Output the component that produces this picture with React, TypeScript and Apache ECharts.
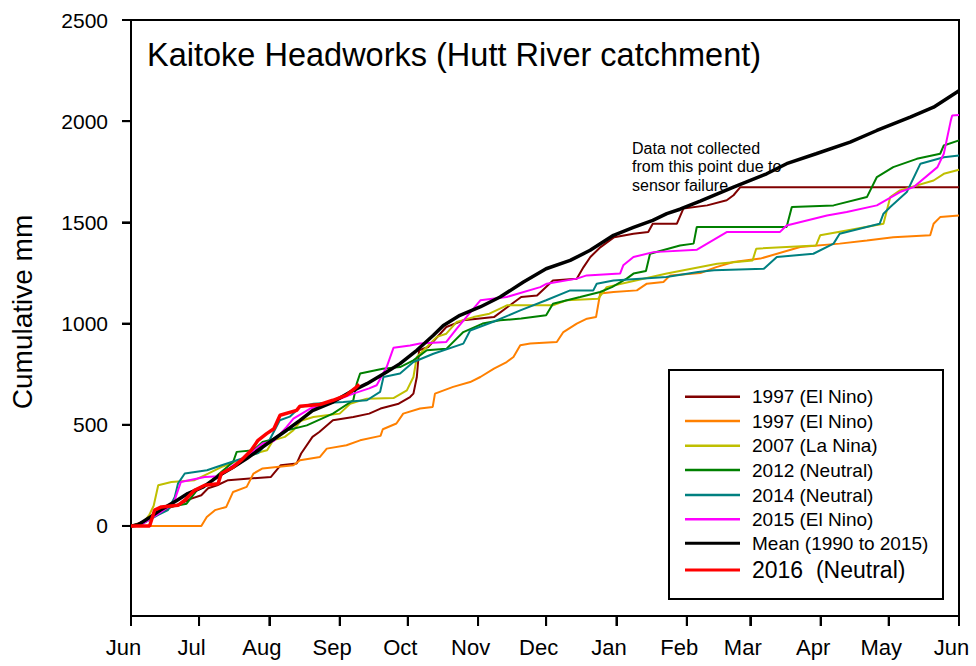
import React, { useEffect, useRef } from "react";
import * as echarts from "echarts";

const MONTH_DAYS = [0, 30, 61, 92, 122, 153, 183, 214, 245, 273, 304, 334, 365];
const MONTH_LABELS = ["Jun", "Jul", "Aug", "Sep", "Oct", "Nov", "Dec", "Jan", "Feb", "Mar", "Apr", "May", "Jun"];
const Y_TICKS = [0, 500, 1000, 1500, 2000, 2500];
const Y_MIN = -445;

const TITLE = "Kaitoke Headworks (Hutt River catchment)";
const Y_NAME = "Cumulative mm";
const NOTE = ["Data not collected", "from this point due to", "sensor failure"];

// [day since 1 June, cumulative mm]
const s1997a: [number, number][] = [
  [0, 0], [5, 20], [12, 60], [18, 95], [23.6, 119], [26.6, 135], [31, 152], [34, 186], [38, 201], [42.8, 226],
  [61.7, 242], [66, 300], [73, 308], [75, 358], [80, 440], [83, 464], [89, 522], [98, 538], [105, 555], [110, 580],
  [118, 604], [123, 637], [124.5, 654], [126, 736], [127, 868], [131, 884], [139, 983], [146.5, 1016], [160, 1032],
  [166, 1082], [172, 1131], [179, 1139], [186, 1213], [196.5, 1222], [199.5, 1279], [202.5, 1329], [207, 1378],
  [213, 1427], [221.5, 1444], [228, 1452], [230, 1493], [240.6, 1493], [243.5, 1568], [254, 1584], [262.6, 1609],
  [265.6, 1634], [268.6, 1674], [365, 1674],
];
const s1997b: [number, number][] = [
  [0, 0], [31, 0], [33.4, 44], [37, 78], [42, 94], [45, 168], [51, 193], [54, 259], [58, 284], [71.6, 300],
  [74.5, 325], [83.3, 341], [86.3, 382], [95, 399], [101, 423], [110, 445], [111, 478], [117, 506], [120, 555],
  [127.4, 580], [133, 588], [134, 654], [142, 687], [149.5, 711], [154, 736], [160, 777], [165.6, 810], [168.6, 835],
  [171.6, 893], [176, 901], [187.7, 909], [190.6, 958], [196.5, 1000], [201, 1024], [205, 1032], [206.8, 1148],
  [212.7, 1156], [223, 1164], [227.4, 1197], [234.7, 1205], [237.7, 1238], [251, 1250], [258, 1279], [265.6, 1304],
  [277.4, 1321], [295, 1378], [312.4, 1395], [324.4, 1411], [336, 1427], [352.3, 1436], [353.8, 1493],
  [356.7, 1526], [365, 1534],
];
const s2007: [number, number][] = [
  [0, 0], [5, 10], [8, 53], [10, 100], [12, 201], [17.8, 217], [28, 226], [34, 259], [39.8, 291], [44, 308],
  [57, 365], [60, 374], [62.7, 423], [67.8, 440], [71.6, 473], [75, 520], [80.4, 538], [86.3, 547], [92, 555],
  [96.6, 604], [104, 629], [115.7, 632], [121.6, 670], [124.5, 736], [126, 835], [130.4, 884], [134.8, 934],
  [139, 950], [143.6, 1008], [151, 1032], [158, 1049], [165.7, 1090], [186, 1090], [192, 1115], [206, 1123],
  [209.7, 1180], [221.5, 1210], [236.2, 1247], [258.4, 1296], [274, 1312], [275.6, 1370], [302, 1386],
  [303.8, 1436], [315.5, 1460], [331.7, 1493], [334.7, 1625], [339, 1658], [353.8, 1707], [358.3, 1740],
  [365, 1760],
];
const s2012: [number, number][] = [
  [0, 0], [5, 15], [10, 50], [17, 94], [24.5, 110], [29, 176], [33, 200], [39, 259], [45, 316], [46.6, 366],
  [54, 374], [58, 415], [63, 430], [68, 470], [77.5, 497], [89, 555], [98, 621], [99.5, 703], [101, 753],
  [111, 777], [118.6, 785], [124.5, 818], [130.4, 868], [139, 875], [146.5, 958], [155, 1000], [162.7, 1016],
  [172, 1025], [183, 1041], [186, 1098], [198, 1131], [206.8, 1156], [212, 1180], [218.5, 1222], [221.5, 1247],
  [227, 1260], [228.8, 1345], [242, 1386], [248, 1395], [249.4, 1477], [289, 1477], [291.3, 1576], [309.7, 1584],
  [324.4, 1625], [328.8, 1724], [336, 1773], [346.4, 1814], [356.7, 1839], [358.3, 1880], [365, 1905],
];
const s2014: [number, number][] = [
  [0, 0], [5, 10], [12, 55], [16.3, 78], [19.3, 143], [20.7, 209], [23.7, 259], [33.5, 275], [40, 300], [51, 341],
  [56, 360], [61, 423], [65.6, 522], [70, 540], [74.5, 588], [80.4, 604], [93.6, 612], [104, 621], [109.8, 662],
  [111.3, 736], [118.6, 753], [124.5, 810], [133.3, 851], [146.5, 901], [149.5, 966], [160, 1010], [171.6, 1065],
  [183, 1115], [193.6, 1164], [203.8, 1164], [205.3, 1197], [212.7, 1213], [236, 1230], [250, 1255], [257, 1263],
  [279, 1271], [284.7, 1329], [300.8, 1345], [309.7, 1395], [312.4, 1444], [330, 1493], [331.7, 1543],
  [334.7, 1576], [342, 1650], [348, 1790], [358.3, 1822], [365, 1830],
];
const s2015: [number, number][] = [
  [0, 0], [5, 10], [12, 60], [18.7, 110], [20.7, 176], [22, 217], [32.5, 242], [39, 245], [45, 300], [51, 341],
  [58, 407], [63, 420], [68.6, 489], [71.6, 530], [79, 580], [88, 610], [98, 654], [105, 680], [108.3, 695],
  [112.7, 785], [115.7, 880], [123, 892], [127.4, 901], [139, 909], [143.6, 975], [154, 1115], [165.6, 1131],
  [180.4, 1180], [183.3, 1197], [196.5, 1222], [200.9, 1238], [215.6, 1247], [217, 1288], [221.5, 1329],
  [230.3, 1353], [249.5, 1365], [262.6, 1452], [286, 1452], [289, 1485], [306.8, 1534], [315.5, 1551],
  [328.8, 1584], [339, 1650], [344.9, 1674], [355.5, 1773], [358.3, 1839], [361.4, 2004], [362, 2028], [365, 2030],
];
const sMean: [number, number][] = [
  [0, 0], [3, 5], [8, 40], [12.8, 77], [20, 125], [25, 160], [31.9, 193], [39, 250], [45, 290], [51, 333],
  [58, 390], [68.6, 473], [74.5, 522], [80, 570], [89, 612], [98, 670], [104, 703], [112.7, 761], [118.6, 802],
  [126, 868], [133.3, 942], [137.7, 991], [145, 1041], [153.9, 1082], [162.7, 1131], [173, 1205], [183, 1271],
  [193.6, 1312], [202.4, 1362], [212.7, 1436], [221.5, 1475], [230, 1510], [236.2, 1543], [242, 1565],
  [250.9, 1605], [265.6, 1674], [280.2, 1740], [289, 1790], [302, 1839], [317, 1897], [328.8, 1954],
  [343.5, 2020], [353.8, 2069], [365, 2150],
];
const s2016: [number, number][] = [
  [0, 0], [8.2, 0], [10.4, 78], [13.4, 94], [20.7, 102], [23.7, 127], [28, 176], [32.5, 201], [38.4, 209],
  [39.8, 259], [45, 290], [48.6, 325], [53, 374], [56, 423], [59.8, 456], [63, 480], [65.7, 547], [73, 571],
  [74.5, 592], [83.3, 600], [89, 621], [95, 646], [99.5, 687], [100.6, 700],
];

const SERIES = [
  { name: "1997 (El Nino)", data: s1997a, color: "#800000", width: 2, legendSize: 19 },
  { name: "1997 (El Nino)", data: s1997b, color: "#FF8000", width: 2, legendSize: 19 },
  { name: "2007 (La Nina)", data: s2007, color: "#BFBF00", width: 2, legendSize: 19 },
  { name: "2012 (Neutral)", data: s2012, color: "#008000", width: 2, legendSize: 19 },
  { name: "2014 (Neutral)", data: s2014, color: "#008080", width: 2, legendSize: 19 },
  { name: "2015 (El Nino)", data: s2015, color: "#FF00FF", width: 2, legendSize: 19 },
  { name: "Mean (1990 to 2015)", data: sMean, color: "#000000", width: 3.5, legendSize: 19 },
  { name: "2016  (Neutral)", data: s2016, color: "#FF0000", width: 3.5, legendSize: 23 },
];

const FONT = '"Liberation Sans", Arial, sans-serif';

export default function App() {
  const ref = useRef<HTMLDivElement>(null);
  useEffect(() => {
    if (!ref.current) return;
    const chart = echarts.init(ref.current, null, { renderer: "svg" });
    const legendRows = [396.7, 421, 445.7, 470, 495, 519.3, 543.3, 570];
    const graphic: any[] = [
      {
        type: "text", x: 147, y: 55, z: 10,
        style: { text: TITLE, fontSize: 32.5, fontFamily: FONT, fill: "#000", verticalAlign: "middle", align: "left" },
      },
      {
        type: "text", x: 22, y: 312, rotation: Math.PI / 2, z: 10,
        style: { text: Y_NAME, fontSize: 28, fontFamily: FONT, fill: "#000", verticalAlign: "middle", align: "center" },
      },
      {
        type: "text", x: 632, y: 139, z: 10,
        style: { text: NOTE.join("\n"), fontSize: 16, lineHeight: 18.5, fontFamily: FONT, fill: "#000", verticalAlign: "top", align: "left" },
      },
      {
        type: "rect", z: 20, shape: { x: 669, y: 370, width: 274, height: 229 },
        style: { fill: "#fff", stroke: "#000", lineWidth: 2 },
      },
    ];
    SERIES.forEach((s, i) => {
      graphic.push({
        type: "line", z: 21, shape: { x1: 685, y1: legendRows[i], x2: 740, y2: legendRows[i] },
        style: { stroke: s.color, lineWidth: s.width > 3 ? 3 : 2.5 },
      });
      graphic.push({
        type: "text", z: 21, x: 752, y: legendRows[i],
        style: { text: s.name, fontSize: s.legendSize, fontFamily: FONT, fill: "#000", verticalAlign: "middle", align: "left" },
      });
    });

    const tickData = [
      ...MONTH_DAYS.map((d) => [d, Y_MIN, 0]),
      ...Y_TICKS.map((v) => [0, v, 1]),
    ];

    chart.setOption({
      animation: false,
      grid: { left: 131, right: 17, top: 20, bottom: 50, show: true, borderColor: "#000", borderWidth: 2, backgroundColor: "transparent" },
      xAxis: {
        type: "value", min: 0, max: 365,
        axisLine: { show: true, onZero: false, lineStyle: { color: "#000", width: 2 } },
        axisTick: { show: true, customValues: MONTH_DAYS, length: 10, inside: false, lineStyle: { color: "#000", width: 2 } },
        axisLabel: {
          customValues: MONTH_DAYS, showMinLabel: true, showMaxLabel: true,
          formatter: (v: number) => MONTH_LABELS[MONTH_DAYS.indexOf(Math.round(v))] ?? "",
          fontSize: 22, fontFamily: FONT, color: "#000", margin: 20, padding: [0, 15, 0, 0],
        },
        splitLine: { show: false },
      },
      yAxis: {
        type: "value", min: Y_MIN, max: 2500,
        axisLine: { show: true, onZero: false, lineStyle: { color: "#000", width: 2 } },
        axisTick: { show: true, customValues: Y_TICKS, length: 9, inside: false, lineStyle: { color: "#000", width: 2 } },
        axisLabel: {
          customValues: Y_TICKS, fontSize: 21, fontFamily: FONT, color: "#000", margin: 23,
          formatter: (v: number) => String(Math.round(v)),
        },
        splitLine: { show: false },
      },
      series: [
        ...SERIES.map((s, i) => ({
          type: "line", name: s.name + "#" + i, data: s.data, showSymbol: false, symbol: "none",
          lineStyle: { color: s.color, width: s.width }, itemStyle: { color: s.color },
          z: 2 + i, silent: true, clip: true,
        })),
        {
          type: "custom", name: "ticks", data: tickData, clip: false, silent: true, z: 30,
          renderItem: (params: any, api: any) => {
            const p = api.coord([api.value(0), api.value(1)]);
            const vertical = api.value(2) === 0;
            return {
              type: "line",
              shape: vertical
                ? { x1: p[0], y1: p[1], x2: p[0], y2: p[1] + 10 }
                : { x1: p[0] - 9, y1: p[1], x2: p[0], y2: p[1] },
              style: { stroke: "#000", lineWidth: 2 },
            };
          },
        },
      ],
      graphic,
    });
    return () => chart.dispose();
  }, []);
  return <div ref={ref} style={{ position: "fixed", left: 0, top: 0, width: 976, height: 666, background: "#fff" }} />;
}
